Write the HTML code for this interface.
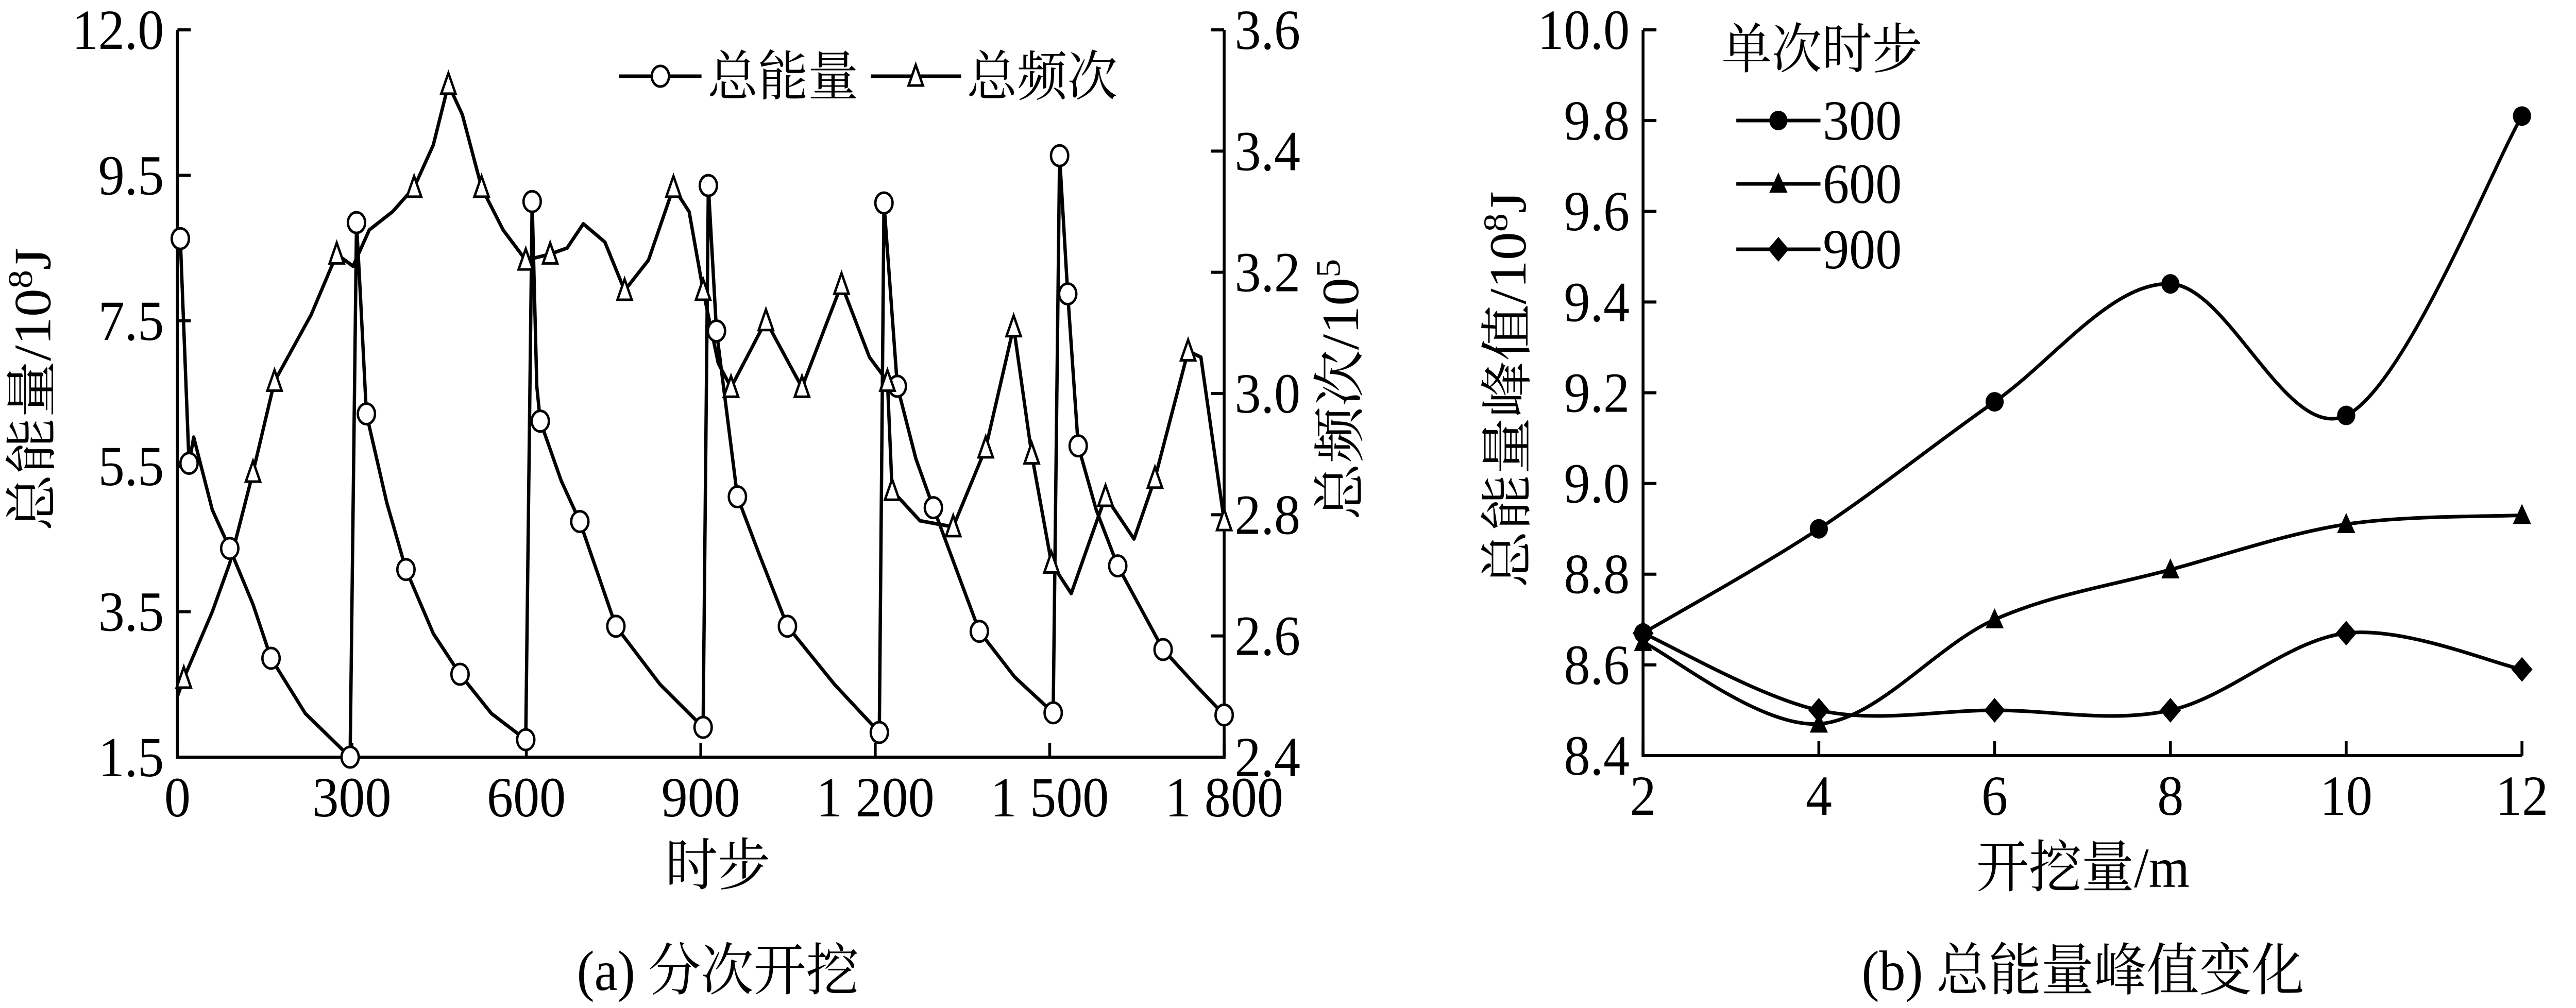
<!DOCTYPE html>
<html><head><meta charset="utf-8">
<style>
html,body{margin:0;padding:0;background:#fff;overflow:hidden;width:100%;height:100%;}
svg{display:block;width:100vw;height:100vh;}
text{font-family:"Liberation Serif","Noto Serif CJK SC","Noto Sans CJK SC",serif;fill:#000;}
</style></head>
<body>
<svg id="fig" viewBox="0 0 5387 1957" preserveAspectRatio="none" xmlns="http://www.w3.org/2000/svg">
<g id="chartA"></g>
<g id="chartB"></g>
</svg>
<script>
// ---- Chart (a) data ----
const energyT = [5,20,28,60,90,130,161,220,297,308,315,325,360,393,440,486,540,599,610,618,624,660,692,754,830,904,913,927,963,1000,1049,1130,1207,1215,1238,1270,1300,1379,1440,1506,1517,1531,1549,1580,1617,1695,1750,1800];
const energyV = [8.63,5.54,5.9,4.9,4.37,3.6,2.86,2.1,1.5,8.85,7.8,6.22,5.0,4.08,3.2,2.64,2.1,1.74,9.14,6.6,6.12,5.3,4.74,3.3,2.5,1.91,9.36,7.36,5.08,4.3,3.3,2.5,1.84,9.12,6.6,5.6,4.93,3.23,2.6,2.11,9.77,7.87,5.78,4.9,4.13,2.98,2.5,2.08];
const energyMarkT = [5,20,90,161,297,308,325,393,486,599,610,624,692,754,904,913,927,963,1049,1207,1215,1238,1300,1379,1506,1517,1531,1549,1617,1695,1800];
const freqT = [0,11,60,90,130,167,230,274,302,330,370,407,440,466,490,523,560,599,641,670,698,735,769,810,853,880,904,930,952,1012,1074,1142,1190,1221,1229,1277,1334,1390,1438,1469,1503,1537,1570,1596,1645,1681,1738,1760,1800];
const freqV = [2.50,2.53,2.64,2.72,2.87,3.02,3.13,3.23,3.21,3.27,3.3,3.34,3.41,3.51,3.46,3.34,3.27,3.22,3.23,3.24,3.28,3.25,3.17,3.22,3.34,3.3,3.17,3.05,3.01,3.12,3.01,3.18,3.06,3.02,2.84,2.79,2.78,2.91,3.11,2.9,2.72,2.67,2.76,2.83,2.76,2.86,3.07,3.06,2.79];
const freqMarkT = [11,130,167,274,407,466,523,599,641,769,853,904,952,1012,1074,1142,1221,1229,1334,1390,1438,1469,1503,1596,1681,1738,1800];
const xTicksA = [0,300,600,900,1200,1500,1800];
const xTickLabelsA = ["0","300","600","900","1 200","1 500","1 800"];
const yTickLabelsA = ["1.5","3.5","5.5","7.5","9.5","12.0"];
const y2TicksA = [2.4,2.6,2.8,3.0,3.2,3.4,3.6];
const y2TickLabelsA = ["2.4","2.6","2.8","3.0","3.2","3.4","3.6"];

// ---- Chart (b) data ----
const xCatsB = [2,4,6,8,10,12];
const s300 = [8.67,8.90,9.18,9.44,9.15,9.81];
const s600 = [8.65,8.47,8.70,8.81,8.91,8.93];
const s900 = [8.67,8.50,8.50,8.50,8.67,8.59];
const yTicksB = [8.4,8.6,8.8,9.0,9.2,9.4,9.6,9.8,10.0];
const yTickLabelsB = ["8.4","8.6","8.8","9.0","9.2","9.4","9.6","9.8","10.0"];

const NS="http://www.w3.org/2000/svg";
function mk(parent,tag,attrs,txt){const e=document.createElementNS(NS,tag);for(const k in attrs)e.setAttribute(k,attrs[k]);if(txt!==undefined)e.textContent=txt;parent.appendChild(e);return e;}
const LW=7, FS=110;

// ===== Chart A =====
const A=document.getElementById('chartA');
const aL=371,aR=2560,aT=58,aB=1470;
const ax=t=>aL+(t/1800)*(aR-aL);
const ayE=v=>aB-(v-1.5)/10*(aB-aT);
const ayF=v=>aB-(v-2.4)/1.2*(aB-aT);
function interp(T,V,t){if(t<=T[0])return V[0];for(let i=0;i<T.length-1;i++){if(t>=T[i]&&t<=T[i+1]){return V[i]+(V[i+1]-V[i])*(t-T[i])/((T[i+1]-T[i])||1);}}return V[V.length-1];}

let axA=mk(A,'path',{d:`M${aL},${aT} V${aB} H${aR} V${aT}`,fill:'none',stroke:'#000','stroke-width':6});


yTickLabelsA.forEach((lab,i)=>{
  const y=aB-i*(aB-aT)/5;
  const tk=mk(A,'line',{x1:aL,x2:aL+28,y1:y,y2:y,stroke:'#000','stroke-width':6});
  
  
  const t=mk(A,'text',{x:aL-28,y:y+37,'text-anchor':'end','font-size':FS},lab);
  
  
});
y2TicksA.forEach((v,i)=>{
  const y=ayF(v);
  const tk=mk(A,'line',{x1:aR-28,x2:aR,y1:y,y2:y,stroke:'#000','stroke-width':6});
  
  
  const t=mk(A,'text',{x:aR+22,y:y+37,'font-size':FS},y2TickLabelsA[i]);
  
  
});
xTicksA.forEach((v,i)=>{
  const x=ax(v);
  const tk=mk(A,'line',{x1:x,x2:x,y1:aB-28,y2:aB,stroke:'#000','stroke-width':6});
  
  
  const t=mk(A,'text',{x:x,y:aB+115,'text-anchor':'middle','font-size':FS},xTickLabelsA[i]);
  
  
});
let eLine=mk(A,'polyline',{points:energyT.map((t,i)=>ax(t)+','+ayE(energyV[i])).join(' '),fill:'none',stroke:'#000','stroke-width':LW,'stroke-linejoin':'round'});


let fLine=mk(A,'polyline',{points:freqT.map((t,i)=>ax(t)+','+ayF(freqV[i])).join(' '),fill:'none',stroke:'#000','stroke-width':LW,'stroke-linejoin':'round'});


function circ(g,x,y){return mk(g,'ellipse',{cx:x,cy:y,rx:18,ry:20,fill:'#fff',stroke:'#000','stroke-width':5});}
function tri(g,x,y){return mk(g,'path',{d:`M${x},${y-22} L${x+15},${y+18} L${x-15},${y+18} Z`,fill:'#fff',stroke:'#000','stroke-width':5});}
energyMarkT.forEach(t=>{const c=circ(A,ax(t),ayE(interp(energyT,energyV,t)));
  
  });
freqMarkT.forEach(t=>{const c=tri(A,ax(t),ayF(interp(freqT,freqV,t)));
  
  });
// legend a
let lg=mk(A,'g',{});


mk(lg,'line',{x1:1295,x2:1467,y1:148,y2:148,stroke:'#000','stroke-width':LW});
circ(lg,1381,148);
mk(lg,'text',{x:1480,y:185,'font-size':105},'总能量');
mk(lg,'line',{x1:1821,x2:2010,y1:148,y2:148,stroke:'#000','stroke-width':LW});
tri(lg,1915,148);
mk(lg,'text',{x:2022,y:185,'font-size':105},'总频次');
let t1=mk(A,'text',{transform:'translate(105,756) rotate(-90)','text-anchor':'middle','font-size':FS},'总能量/10');
mk(t1,'tspan',{dy:-38,'font-size':72},'8');
mk(t1,'tspan',{dy:38},'J');


let t2=mk(A,'text',{transform:'translate(2840,756) rotate(-90)','text-anchor':'middle','font-size':FS},'总频次/10');
mk(t2,'tspan',{dy:-38,'font-size':72},'5');


let t3=mk(A,'text',{x:1501,y:1718,'text-anchor':'middle','font-size':FS},'时步');


let t4=mk(A,'text',{x:1501,y:1922,'text-anchor':'middle','font-size':FS},'(a)  分次开挖');



// ===== Chart B =====
const B=document.getElementById('chartB');
const bL=3436,bR=5274,bT=58,bB=1467;
const bx=v=>bL+(v-2)/10*(bR-bL);
const by=v=>bB-(v-8.4)/1.6*(bB-bT);
let axB=mk(B,'path',{d:`M${bL},${bT} V${bB} H${bR}`,fill:'none',stroke:'#000','stroke-width':6});


yTicksB.forEach((v,i)=>{
  const y=by(v);
  const tk=mk(B,'line',{x1:bL,x2:bL+28,y1:y,y2:y,stroke:'#000','stroke-width':6});
  
  
  const t=mk(B,'text',{x:bL-28,y:y+37,'text-anchor':'end','font-size':FS},yTickLabelsB[i]);
  
  
});
xCatsB.forEach(v=>{
  const x=bx(v);
  const tk=mk(B,'line',{x1:x,x2:x,y1:bB-28,y2:bB,stroke:'#000','stroke-width':6});
  
  
  const t=mk(B,'text',{x:x,y:bB+115,'text-anchor':'middle','font-size':FS},String(v));
  
  
});
function spline(pts){let d=`M${pts[0][0]},${pts[0][1]}`;for(let i=0;i<pts.length-1;i++){const p0=pts[Math.max(0,i-1)],p1=pts[i],p2=pts[i+1],p3=pts[Math.min(pts.length-1,i+2)];
  const c1=[p1[0]+(p2[0]-p0[0])/6,p1[1]+(p2[1]-p0[1])/6],c2=[p2[0]-(p3[0]-p1[0])/6,p2[1]-(p3[1]-p1[1])/6];
  d+=` C${c1[0]},${c1[1]} ${c2[0]},${c2[1]} ${p2[0]},${p2[1]}`;}return d;}
function dot(g,x,y){return mk(g,'circle',{cx:x,cy:y,r:19,fill:'#000'});}
function ftri(g,x,y){return mk(g,'path',{d:`M${x},${y-22} L${x+19},${y+17} L${x-19},${y+17} Z`,fill:'#000'});}
function dia(g,x,y){return mk(g,'path',{d:`M${x},${y-24} L${x+22},${y} L${x},${y+24} L${x-22},${y} Z`,fill:'#000'});}
[[s300,dot,'series-300'],[s600,ftri,'series-600'],[s900,dia,'series-900']].forEach(([s,m,n])=>{
  const pts=xCatsB.map((x,i)=>[bx(x),by(s[i])]);
  const p=mk(B,'path',{d:spline(pts),fill:'none',stroke:'#000','stroke-width':LW});
  
  
  pts.forEach(q=>{const e=m(B,q[0],q[1]);
    
    });
});
let lb=mk(B,'g',{});


mk(lb,'text',{x:3600,y:132,'font-size':105},'单次时步');
[[234,dot,'300'],[357,ftri,'600'],[484,dia,'900']].forEach(([y,m,l])=>{
  mk(lb,'line',{x1:3631,x2:3807,y1:y,y2:y,stroke:'#000','stroke-width':LW});
  m(lb,3719,y);
  mk(lb,'text',{x:3812,y:y+37,'font-size':FS},l);
});
let u1=mk(B,'text',{transform:'translate(3190,756) rotate(-90)','text-anchor':'middle','font-size':FS},'总能量峰值/10');
mk(u1,'tspan',{dy:-38,'font-size':72},'8');
mk(u1,'tspan',{dy:38},'J');


let u2=mk(B,'text',{x:4356,y:1722,'text-anchor':'middle','font-size':FS},'开挖量/m');


let u3=mk(B,'text',{x:4356,y:1922,'text-anchor':'middle','font-size':FS},'(b) 总能量峰值变化');


</script>
</body></html>
